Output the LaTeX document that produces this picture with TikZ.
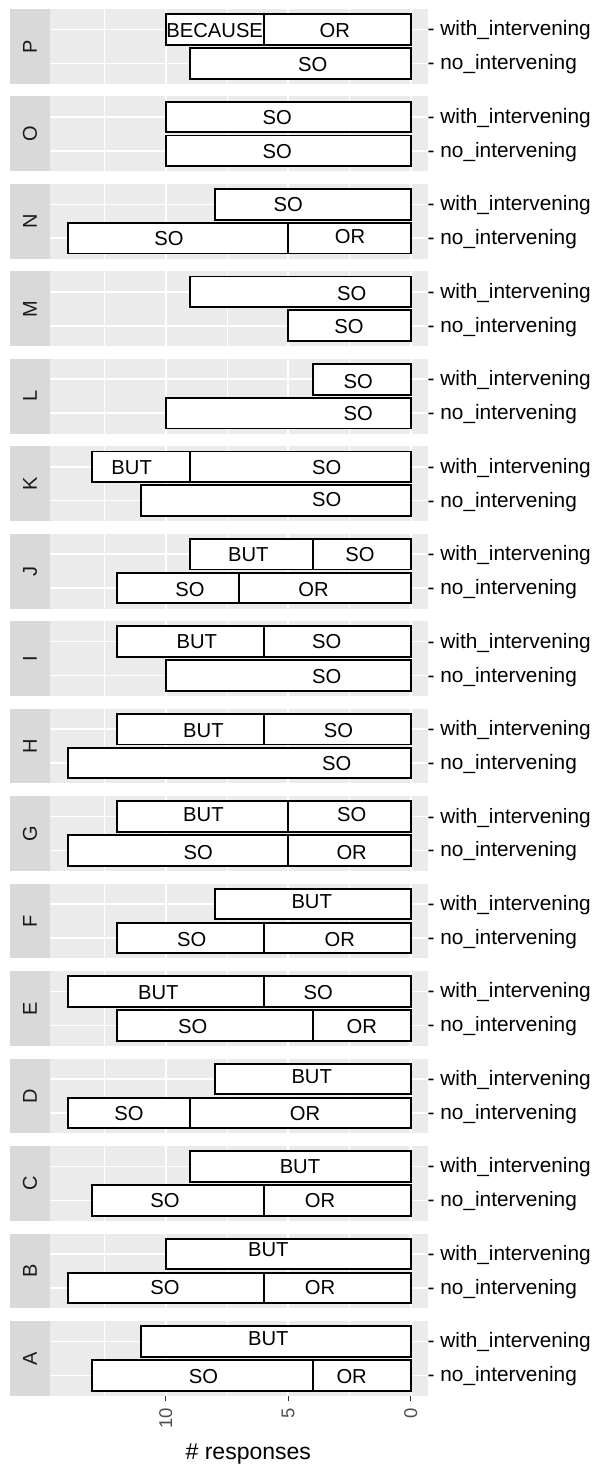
\documentclass[tikz,border=0pt]{standalone}
\usepackage{fontspec}
\setmainfont{Liberation Sans}
\definecolor{panelbg}{HTML}{EBEBEB}
\definecolor{stripbg}{HTML}{D9D9D9}
\definecolor{stripfg}{HTML}{1A1A1A}
\definecolor{tickfg}{HTML}{4D4D4D}
\definecolor{tickln}{HTML}{333333}
\def\RW{20.4}
\def\RN{54.3}
\newcommand\bseg[4]{\draw[barbox] ({410.7-24.5*(#3)},{9+87.47*(#1)+#2-15.3}) rectangle ({410.7-24.5*(#4)},{9+87.47*(#1)+#2+15.3});}
\newcommand\blab[6]{\node[barlab] (#6) at ({410.7-24.5*(#3)},{9+87.47*(#1)+#2+(#4)}) {#5};}
\begin{document}
\begin{tikzpicture}[x=1pt,y=-1pt,
 barbox/.style={draw=black,fill=white,line width=1.9pt},
 majorgrid/.style={draw=white,line width=1.6pt},
 minorgrid/.style={draw=white,line width=0.9pt},
 barlab/.style={inner sep=0pt,font=\fontsize{20.2}{24}\selectfont},
 rowlab/.style={inner sep=0pt,anchor=base west,font=\fontsize{20.8}{24}\selectfont},
 striplab/.style={inner sep=0pt,rotate=90,text=stripfg,font=\fontsize{20}{24}\selectfont},
 ticklab/.style={inner sep=0pt,rotate=90,anchor=east,text=tickfg,font=\fontsize{18.5}{22}\selectfont},
 axtick/.style={draw=tickln,line width=1.1pt},
 axtitle/.style={inner sep=0pt,anchor=base,font=\fontsize{23}{27}\selectfont}
 ]
\useasboundingbox (0,0) rectangle (595,1465);
\fill[white] (0,0) rectangle (595,1465);
\foreach \i/\l in {0/P,1/O,2/N,3/M,4/L,5/K,6/J,7/I,8/H,9/G,10/F,11/E,12/D,13/C,14/B,15/A} {
  \pgfmathsetmacro\tp{9+87.47*\i}
  \fill[stripbg] (10,\tp) rectangle (50,{\tp+74.7});
  \fill[panelbg] (50,\tp) rectangle (428,{\tp+74.7});
  \foreach \v in {2.5,7.5,12.5}
    \draw[minorgrid] ({410.7-24.5*\v},\tp) -- ({410.7-24.5*\v},{\tp+74.7});
  \foreach \v in {0,5,10}
    \draw[majorgrid] ({410.7-24.5*\v},\tp) -- ({410.7-24.5*\v},{\tp+74.7});
  \draw[majorgrid] (50,{\tp+\RW}) -- (428,{\tp+\RW});
  \draw[majorgrid] (50,{\tp+\RN}) -- (428,{\tp+\RN});
  \node[striplab] (strip\l) at (30,{\tp+37.35}) {\l};
  \node[rowlab] (w\l) at (427.5,{\tp+\RW+6.4}) {- with\_intervening};
  \node[rowlab] (n\l) at (427.5,{\tp+\RN+6.4}) {- no\_intervening};
}
% P
\bseg{0}{\RW}{10}{6}\bseg{0}{\RW}{6}{0}\bseg{0}{\RN}{9}{0}
\blab{0}{\RW}{8.0}{1.5}{BECAUSE}{Pw1}\blab{0}{\RW}{3.1}{1}{OR}{Pw2}\blab{0}{\RN}{4.0}{1}{SO}{Pn1}
% O
\bseg{1}{\RW}{10}{0}\bseg{1}{\RN}{10}{0}
\blab{1}{\RW}{5.45}{1}{SO}{Ow1}\blab{1}{\RN}{5.45}{1}{SO}{On1}
% N
\bseg{2}{\RW}{8}{0}\bseg{2}{\RN}{14}{5}\bseg{2}{\RN}{5}{0}
\blab{2}{\RW}{5.0}{0}{SO}{Nw1}\blab{2}{\RN}{9.87}{0.5}{SO}{Nn1}\blab{2}{\RN}{2.48}{-1.5}{OR}{Nn2}
% M
\bseg{3}{\RW}{9}{0}\bseg{3}{\RN}{5}{0}
\blab{3}{\RW}{2.41}{1.5}{SO}{Mw1}\blab{3}{\RN}{2.52}{1}{SO}{Mn1}
% L
\bseg{4}{\RW}{4}{0}\bseg{4}{\RN}{10}{0}
\blab{4}{\RW}{2.14}{2.5}{SO}{Lw1}\blab{4}{\RN}{2.14}{0}{SO}{Ln1}
% K
\bseg{5}{\RW}{13}{9}\bseg{5}{\RW}{9}{0}\bseg{5}{\RN}{11}{0}
\blab{5}{\RW}{11.39}{0.6}{BUT}{Kw1}\blab{5}{\RW}{3.43}{0.6}{SO}{Kw2}\blab{5}{\RN}{3.43}{-1.3}{SO}{Kn1}
% J
\bseg{6}{\RW}{9}{4}\bseg{6}{\RW}{4}{0}\bseg{6}{\RN}{12}{7}\bseg{6}{\RN}{7}{0}
\blab{6}{\RW}{6.63}{0.8}{BUT}{Jw1}\blab{6}{\RW}{2.07}{0.8}{SO}{Jw2}\blab{6}{\RN}{9.01}{1.9}{SO}{Jn1}\blab{6}{\RN}{3.97}{1.9}{OR}{Jn2}
% I
\bseg{7}{\RW}{12}{6}\bseg{7}{\RW}{6}{0}\bseg{7}{\RN}{10}{0}
\blab{7}{\RW}{8.73}{0}{BUT}{Iw1}\blab{7}{\RW}{3.43}{0}{SO}{Iw2}\blab{7}{\RN}{3.43}{1}{SO}{In1}
% H
\bseg{8}{\RW}{12}{6}\bseg{8}{\RW}{6}{0}\bseg{8}{\RN}{14}{0}
\blab{8}{\RW}{8.46}{1.8}{BUT}{Hw1}\blab{8}{\RW}{2.95}{1.8}{SO}{Hw2}\blab{8}{\RN}{3.02}{0}{SO}{Hn1}
% G
\bseg{9}{\RW}{12}{5}\bseg{9}{\RW}{5}{0}\bseg{9}{\RN}{14}{5}\bseg{9}{\RN}{5}{0}
\blab{9}{\RW}{8.46}{-1.7}{BUT}{Gw1}\blab{9}{\RW}{2.41}{-1.7}{SO}{Gw2}\blab{9}{\RN}{8.67}{2}{SO}{Gn1}\blab{9}{\RN}{2.41}{2}{OR}{Gn2}
% F
\bseg{10}{\RW}{8}{0}\bseg{10}{\RN}{12}{6}\bseg{10}{\RN}{6}{0}
\blab{10}{\RW}{4.04}{-2.5}{BUT}{Fw1}\blab{10}{\RN}{8.94}{1.2}{SO}{Fn1}\blab{10}{\RN}{2.89}{1.2}{OR}{Fn2}
% E
\bseg{11}{\RW}{14}{6}\bseg{11}{\RW}{6}{0}\bseg{11}{\RN}{12}{4}\bseg{11}{\RN}{4}{0}
\blab{11}{\RW}{10.3}{0.6}{BUT}{Ew1}\blab{11}{\RW}{3.77}{0.6}{SO}{Ew2}\blab{11}{\RN}{8.9}{1}{SO}{En1}\blab{11}{\RN}{2.0}{1}{OR}{En2}
% D
\bseg{12}{\RW}{8}{0}\bseg{12}{\RN}{14}{9}\bseg{12}{\RN}{9}{0}
\blab{12}{\RW}{4.04}{-2}{BUT}{Dw1}\blab{12}{\RN}{11.5}{1}{SO}{Dn1}\blab{12}{\RN}{4.31}{1}{OR}{Dn2}
% C
\bseg{13}{\RW}{9}{0}\bseg{13}{\RN}{13}{6}\bseg{13}{\RN}{6}{0}
\blab{13}{\RW}{4.52}{0}{BUT}{Cw1}\blab{13}{\RN}{10.03}{0}{SO}{Cn1}\blab{13}{\RN}{3.7}{0}{OR}{Cn2}
% B
\bseg{14}{\RW}{10}{0}\bseg{14}{\RN}{14}{6}\bseg{14}{\RN}{6}{0}
\blab{14}{\RW}{5.81}{-4}{BUT}{Bw1}\blab{14}{\RN}{10.03}{0}{SO}{Bn1}\blab{14}{\RN}{3.7}{0}{OR}{Bn2}
% A
\bseg{15}{\RW}{11}{0}\bseg{15}{\RN}{13}{4}\bseg{15}{\RN}{4}{0}
\blab{15}{\RW}{5.81}{-2.4}{BUT}{Aw1}\blab{15}{\RN}{8.46}{1}{SO}{An1}\blab{15}{\RN}{2.41}{1}{OR}{An2}
% x axis
\foreach \v/\t in {0/0,5/5,10/10} {
  \draw[axtick] ({410.7-24.5*\v},1395.7) -- ({410.7-24.5*\v},1401.4);
  \node[ticklab] (tick\t) at ({410.7-24.5*\v},1408) {\t};
}
\node[axtitle] (xtitle) at (248.3,1459.3) {\# responses};
\end{tikzpicture}
\end{document}
